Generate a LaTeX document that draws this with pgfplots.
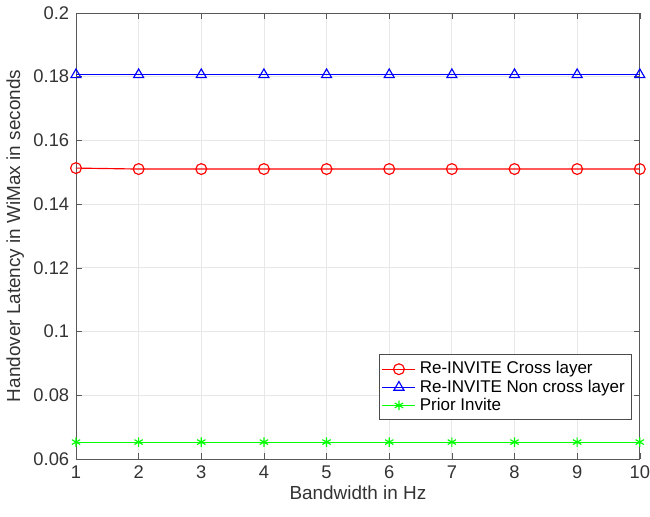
\documentclass[border=0pt]{standalone}
\usepackage{fontspec}
\setmainfont{Liberation Sans}
\usepackage{pgfplots}
\pgfplotsset{compat=1.18}

\begin{document}
\begin{tikzpicture}
\begin{axis}[
    scale only axis,
    width=292pt, height=231pt,
    xmin=1, xmax=10, ymin=0.06, ymax=0.2,
    xtick={1,...,10},
    ytick={0.06,0.08,...,0.2},
    yticklabels={0.06,0.08,0.1,0.12,0.14,0.16,0.18,0.2},
    grid=major, grid style={gray!18, line width=0.4pt},
    axis line style={gray!70!black, line width=0.4pt},
    tick style={gray!70!black},
    tick align=inside, major tick length=3pt,
    every tick label/.style={font=\fontsize{9.5}{10}\selectfont, text=black!80},
    xticklabel style={inner xsep=0pt},
    /pgf/number format/assume math mode=true,
    label style={font=\fontsize{9.8}{11}\selectfont, text=black!80},
    xlabel={Bandwidth in Hz},
    ylabel={Handover Latency in WiMax in seconds},
    xlabel style={yshift=3pt, text depth=5pt},
    ylabel style={yshift=-2pt},
    legend style={at={(0.986,0.087)}, anchor=south east,
        font=\fontsize{8.8}{9.5}\selectfont, draw=black!70, line width=0.4pt,
        row sep=-2.5pt, inner sep=1.5pt},
    legend cell align=left,
]
\addplot[red, line width=0.6pt, mark=o, mark size=2.8pt] coordinates {
  (1,0.1513) (2,0.1510) (3,0.1510) (4,0.1510) (5,0.1510)
  (6,0.1510) (7,0.1510) (8,0.1510) (9,0.1510) (10,0.1510)
};
\addlegendentry{Re-INVITE Cross layer}
\addplot[blue, line width=0.6pt, mark=triangle, mark size=3pt] coordinates {
  (1,0.1806) (2,0.1806) (3,0.1806) (4,0.1806) (5,0.1806)
  (6,0.1806) (7,0.1806) (8,0.1806) (9,0.1806) (10,0.1806)
};
\addlegendentry{Re-INVITE Non cross layer}
\addplot[green, line width=0.6pt, mark=asterisk, mark size=2.5pt] coordinates {
  (1,0.0653) (2,0.0653) (3,0.0653) (4,0.0653) (5,0.0653)
  (6,0.0653) (7,0.0653) (8,0.0653) (9,0.0653) (10,0.0653)
};
\addlegendentry{Prior Invite}
\end{axis}
\end{tikzpicture}
\end{document}
